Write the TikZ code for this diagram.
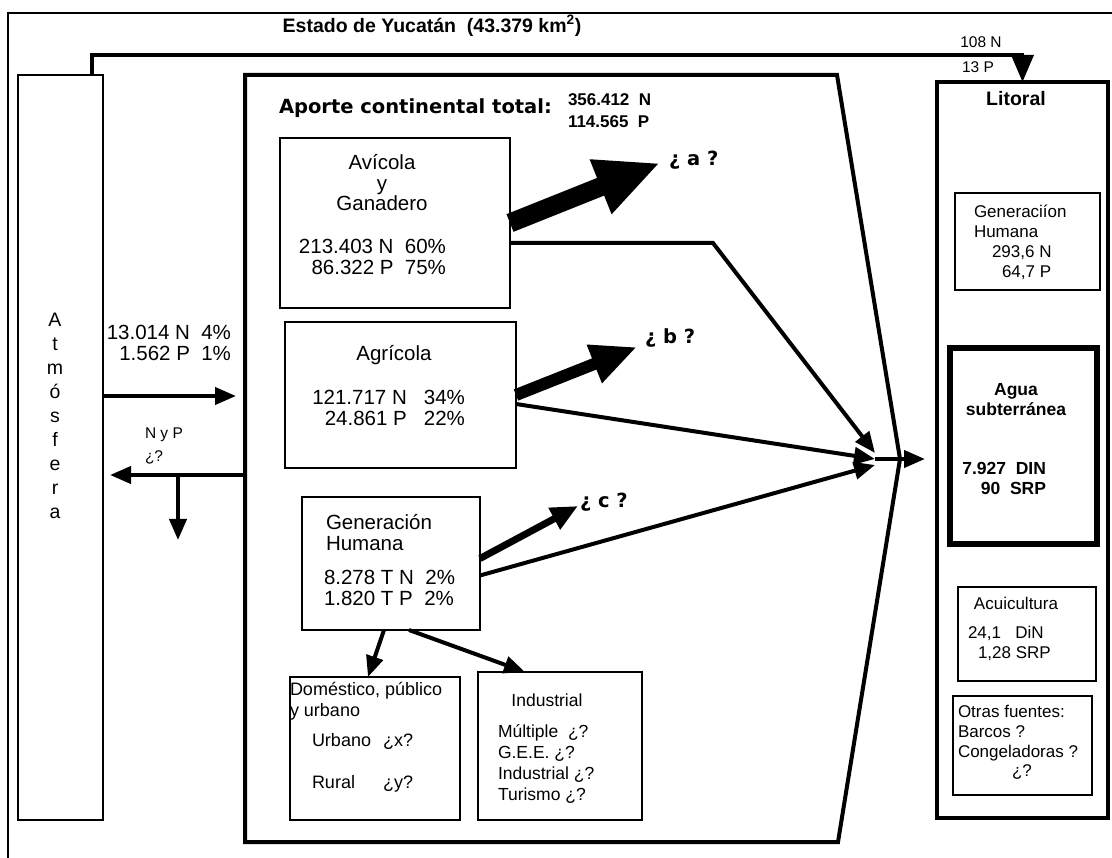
\documentclass[tikz,border=0pt]{standalone}
\usepackage{fontspec}
\setmainfont{Liberation Sans}
\newfontfamily\heavyfont{DejaVu Sans}
\usetikzlibrary{positioning, arrows.meta}

\begin{document}
\begin{tikzpicture}[
    x=1pt, y=-1pt,
    every node/.style={inner sep=0pt, outer sep=0pt},
    txt/.style={font=\fontsize{20.5}{20.5}\selectfont},
    small/.style={font=\fontsize{17}{20}\selectfont},
    tiny/.style={font=\fontsize{15.5}{23}\selectfont},
    boldtxt/.style={font=\fontsize{17.5}{20}\selectfont\bfseries},
    heavy/.style={font=\fontsize{19.5}{20}\selectfont\heavyfont\bfseries},
    box/.style={draw, line width=2.5pt},
    arrow/.style={line width=4pt, -{Triangle[length=21pt, width=17pt]}},
]

\useasboundingbox (0,0) rectangle (1112,858);

% ── Frame and title ──
\draw[line width=2pt] (8,858) -- (8,13) -- (1112,13);
\node[font=\fontsize{19.5}{20}\selectfont\bfseries] (title) at (432,26)
    {Estado de Yucatán\ \ (43.379 km\textsuperscript{2})};

% ── Atmosphere ──
\node[box, minimum width=85, minimum height=745] (atm) at (60.5,447.5) {};
\node[align=center, font=\fontsize{19.5}{24}\selectfont] (atmtxt) at (55,416)
    {A\\t\\m\\ó\\s\\f\\e\\r\\a};

\coordinate (inR) at (236,396);
\coordinate (outL) at (110,475);
\coordinate (outD) at (178,540);

\node[txt, align=right, anchor=east] (atmin) at (231,343)
    {13.014 N\ \ 4\%\\1.562 P\ \ 1\%};
\node[tiny, align=left, anchor=west] (nyp) at (145,446) {N y P\\¿?};

% ── Continental box ──
\coordinate (ctl) at (245,75);
\coordinate (ctr) at (837,75);
\coordinate (apex) at (900,459);
\coordinate (cbr) at (838,842);
\coordinate (cbl) at (245,842);
\draw[line width=4pt] (ctl) -- (ctr) -- (apex) -- (cbr) -- (cbl) -- cycle;

\node[heavy, anchor=west] (aporte) at (279,108) {Aporte continental total:};
\node[align=left, anchor=west, font=\fontsize{17}{22}\selectfont\bfseries] (aportenum) at (568,111)
    {356.412\ \ N\\114.565\ \ P};

% ── Sources ──
\node[box, minimum width=230, minimum height=170] (avi) at (395,223) {};
\node[txt, align=center] (avitit) at (382,183) {Avícola\\y\\Ganadero};
\node[txt, align=right, anchor=east] (avinum) at (446,257)
    {213.403 N\ \ 60\%\\86.322 P\ \ 75\%};

\node[box, minimum width=231, minimum height=146] (agr) at (400.5,395) {};
\node[txt] (agrtit) at (394,355) {Agrícola};
\node[txt, align=right, anchor=east] (agrnum) at (465,408)
    {121.717 N\ \ \ 34\%\\24.861 P\ \ \ 22\%};

\node[box, minimum width=178, minimum height=133] (gen) at (391,563.5) {};
\node[txt, align=left, anchor=west] (gentit) at (326,532.5) {Generación\\Humana};
\node[txt, align=left, anchor=west] (gennum) at (324,588)
    {8.278 T N\ \ 2\%\\1.820 T P\ \ 2\%};

\node[box, minimum width=170, minimum height=143] (dom) at (375,748.5) {};
\node[align=left, anchor=west, font=\fontsize{18}{21}\selectfont] (domtit) at (290,701.5)
    {Doméstico, público\\y urbano};
\node[anchor=west, font=\fontsize{18}{21}\selectfont] (domsub) at (312,763)
    {\begin{tabular}{@{}l@{\hspace{12pt}}l@{}}Urbano & ¿x?\\[21pt] Rural & ¿y?\end{tabular}};

\node[box, minimum width=164, minimum height=148] (ind) at (560,746) {};
\node[font=\fontsize{17.5}{21}\selectfont] (indtit) at (547,700) {Industrial};
\node[align=left, anchor=west, font=\fontsize{17.5}{21}\selectfont] (indsub) at (498,764.5)
    {Múltiple\ \ ¿?\\G.E.E. ¿?\\Industrial ¿?\\Turismo ¿?};

% ── Losses ¿a? ¿b? ¿c? ──
\coordinate (qa) at (660,163);
\coordinate (qb) at (637,347);
\coordinate (qc) at (578,506);
\draw[line width=19pt, -{Triangle[length=64pt, width=54pt]}] (avi.east) -- (qa);
\draw[line width=12pt, -{Triangle[length=46pt, width=38pt]}] (agr.east) -- (qb);
\draw[line width=7pt, -{Triangle[length=27pt, width=23pt]}] ([yshift=5pt]gen.east) -- (qc);
\node[heavy, anchor=west] (qatxt) at (669,160) {¿ a ?};
\node[heavy, anchor=west] (qbtxt) at (645,338) {¿ b ?};
\node[heavy, anchor=west] (qctxt) at (580,502) {¿ c ?};

% ── Flows to the coast ──
\coordinate (bend) at (713,243);
\coordinate (conv) at (875,459);
\coordinate (out) at (925,459);
\draw[arrow] ([yshift=-20pt]avi.east) -- (bend) -- ([yshift=6pt]conv);
\draw[arrow] ([yshift=-9pt]agr.east) -- (conv);
\draw[arrow] ([yshift=-12pt]gen.east) -- ([yshift=-6pt]conv);
\draw[arrow] (conv) -- (out);

\draw[arrow] ([xshift=-7pt]gen.south) -- ([xshift=-7pt]dom.north);
\draw[arrow] ([xshift=18pt]gen.south) -- ([xshift=-35pt]ind.north);

% ── Litoral ──
\node[draw, line width=4.5pt, minimum width=171, minimum height=736] (lit) at (1022.5,450) {};
\node[font=\fontsize{19.5}{20}\selectfont\bfseries] (littit) at (1016,99) {Litoral};

\node[draw, line width=2pt, minimum width=145, minimum height=97] (litgen) at (1027.5,241.5) {};
\node[small, align=left, anchor=west] (litgentxt) at (974,242.5)
    {Generaciíon\\Humana\\\hspace*{18pt}293,6 N\\\hspace*{28pt}64,7 P};

\node[draw, line width=6pt, minimum width=147, minimum height=196] (agua) at (1023.5,446) {};
\node[boldtxt, align=center] (aguatit) at (1016,400) {Agua\\subterránea};
\node[boldtxt, align=right, anchor=east] (aguanum) at (1046,478) {7.927\ \ DIN\\90\ \ SRP};

\node[draw, line width=2pt, minimum width=138, minimum height=94] (acui) at (1027,634) {};
\node[small] (acuitit) at (1016,603) {Acuicultura};
\node[small, align=left, anchor=west] (acuinum) at (968,643.5)
    {24,1\ \ \ DiN\\\hspace*{10pt}1,28 SRP};

\node[draw, line width=2.5pt, minimum width=139, minimum height=99] (otras) at (1022.5,745.5) {};
\node[small, align=left, anchor=west] (otrastxt) at (958,733)
    {Otras fuentes:\\Barcos ?\\Congeladoras ?};
\node[small] (otrasq) at (1022,772) {¿?};

% ── Atmosphere flows ──
\draw[arrow] (atm.east |- inR) -- (inR);
\draw[arrow] (ctl |- outL) -- (outL);
\draw[arrow] (outD |- outL) -- (outD);
\draw[line width=3.5pt, -{Triangle[length=27pt, width=22pt]}]
    ([xshift=-11pt]atm.north east) |- ([yshift=27pt]lit.north) -- (lit.north);
\node[tiny] (topn) at (981,42) {108 N};
\node[tiny] (topp) at (978,67) {13 P};

\end{tikzpicture}
\end{document}
